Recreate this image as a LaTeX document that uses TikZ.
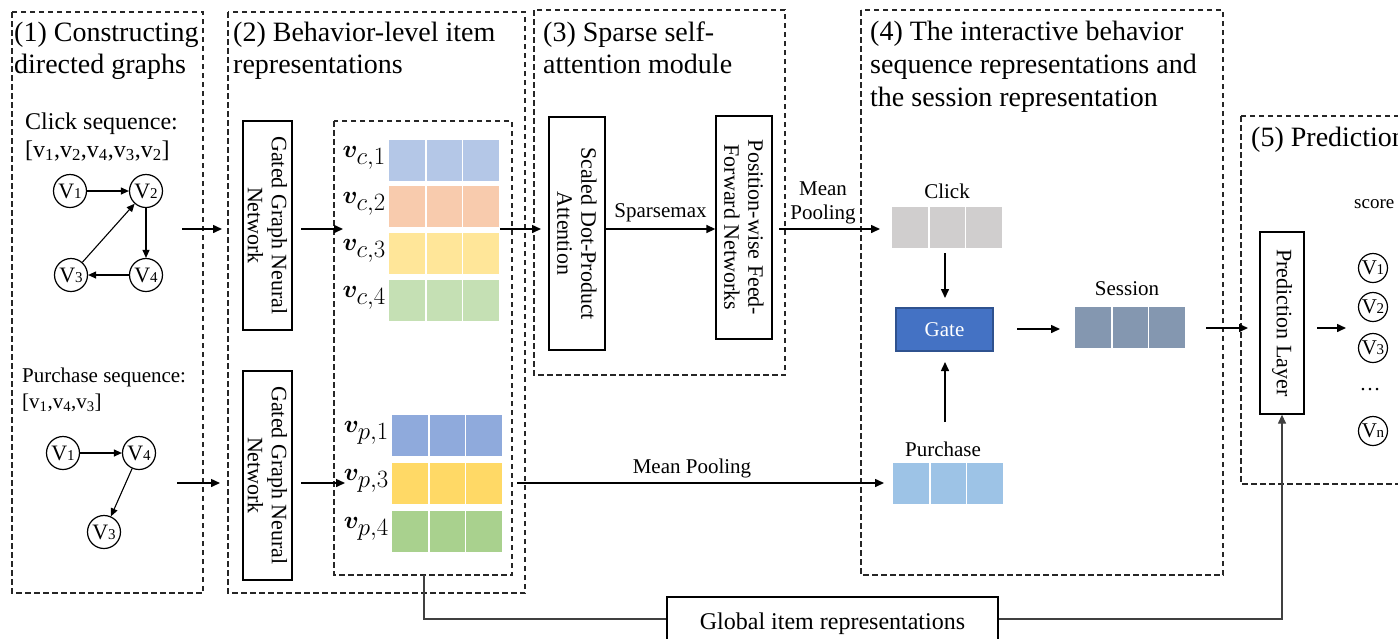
\documentclass[tikz,border=0pt]{standalone}
\usepackage{amsmath}
\usepackage{bm}
\usepackage{fontspec}
\setmainfont{Liberation Serif}
\usetikzlibrary{arrows.meta,calc}
\definecolor{cone}{HTML}{B4C7E7}
\definecolor{ctwo}{HTML}{F8CBAD}
\definecolor{cthree}{HTML}{FFE699}
\definecolor{cfour}{HTML}{C5E0B4}
\definecolor{pone}{HTML}{8FAADC}
\definecolor{pthree}{HTML}{FFD966}
\definecolor{pfour}{HTML}{A9D18E}
\definecolor{clickv}{HTML}{D0CECE}
\definecolor{purv}{HTML}{9DC3E6}
\definecolor{sessv}{HTML}{8497B0}
\definecolor{gatef}{HTML}{4472C4}
\definecolor{gateb}{HTML}{2F528F}
\definecolor{glin}{HTML}{404040}
\newcommand\cv[1]{V\kern-0.3pt{\fontsize{15}{15}\selectfont #1}}
\newcommand\myvec[4]{%
  \node[vecbox, fill=#4, anchor=north west] (#1) at (#2,#3) {};
  \draw[white, line width=1.6pt] ($(#1.north west)!1/3!(#1.north east)$) -- ($(#1.south west)!1/3!(#1.south east)$);
  \draw[white, line width=1.6pt] ($(#1.north west)!2/3!(#1.north east)$) -- ($(#1.south west)!2/3!(#1.south east)$);
}
\begin{document}
\begin{tikzpicture}[x=1pt,y=-1pt,
  dbox/.style={draw=black!85, line width=1.1pt, dash pattern=on 5.5pt off 3.5pt},
  ttl/.style={anchor=base west, inner sep=0, font=\fontsize{28}{32}\selectfont},
  lbl/.style={inner sep=0, font=\fontsize{21}{25}\selectfont},
  blk/.style={draw, line width=1.3pt, inner sep=0, align=center, font=\fontsize{22}{24}\selectfont},
  circ/.style={draw, circle, line width=1.2pt, minimum size=33pt, inner sep=0, font=\fontsize{22}{22}\selectfont},
  scirc/.style={draw, circle, line width=1.2pt, minimum size=29pt, inner sep=0, font=\fontsize{21}{21}\selectfont},
  vecbox/.style={draw=none, inner sep=0, minimum width=110pt, minimum height=41pt},
  vlab/.style={anchor=east, inner sep=0, font=\fontsize{33}{33}\selectfont},
  arr/.style={-{Triangle[length=9pt,width=8pt]}, line width=1.5pt},
  garr/.style={-{Triangle[length=8pt,width=7pt]}, line width=1.1pt},
  conn/.style={draw=glin, line width=1.3pt}
]
\useasboundingbox (0,0) rectangle (1398,638);
\clip (0,0) rectangle (1398,638);
\fill[white] (0,0) rectangle (1398,638);

% ---------- dashed frames ----------
\draw[dbox] (12,12) rectangle (203,593);
\draw[dbox] (228,12) rectangle (525,593);
\draw[dbox] (334,121) rectangle (512,575);
\draw[dbox] (534,10) rectangle (785,375);
\draw[dbox] (861,10) rectangle (1223,575);
\draw[dbox] (1241,116) rectangle (1420,484);

% ---------- titles ----------
\node[ttl] (t1a) at (14,41) {(1) Constructing};
\node[ttl] (t1b) at (14,73) {directed graphs};
\node[ttl] (t2a) at (233,41) {(2) Behavior-level item};
\node[ttl] (t2b) at (233,73) {representations};
\node[ttl] (t3a) at (543,41) {(3) Sparse self-};
\node[ttl] (t3b) at (543,73) {attention module};
\node[ttl] (t4a) at (870,40) {(4) The interactive behavior};
\node[ttl] (t4b) at (870,73) {sequence representations and};
\node[ttl] (t4c) at (870,106) {the session representation};
\node[ttl] (t5a) at (1251,146) {(5) Prediction};

% ---------- (1) graphs ----------
\node[lbl, anchor=base west, font=\fontsize{24}{28}\selectfont] (cs) at (25,129) {Click sequence:};
\node[lbl, anchor=base west, font=\fontsize{24}{28}\selectfont] (csq) at (25,157) {[v\textsubscript{1},v\textsubscript{2},v\textsubscript{4},v\textsubscript{3},v\textsubscript{2}]};
\node[circ] (a1) at (70,191) {\cv{1}};
\node[circ] (a2) at (146,191) {\cv{2}};
\node[circ] (a4) at (146,275) {\cv{4}};
\node[circ] (a3) at (71,275) {\cv{3}};
\draw[garr] (a1) -- (a2);
\draw[garr] (a2) -- (a4);
\draw[garr] (a4) -- (a3);
\draw[garr] (a3) -- (a2);

\node[lbl, anchor=base west] (ps) at (22,382) {Purchase sequence:};
\node[lbl, anchor=base west] (psq) at (22,408) {[v\textsubscript{1},v\textsubscript{4},v\textsubscript{3}]};
\node[circ] (b1) at (63,453) {\cv{1}};
\node[circ] (b4) at (139,453) {\cv{4}};
\node[circ] (b3) at (104,532) {\cv{3}};
\draw[garr] (b1) -- (b4);
\draw[garr] (b4) -- (b3);

\coordinate (o1s) at (182,229); \coordinate (o1e) at (222,229);
\coordinate (o2s) at (177,483); \coordinate (o2e) at (220,483);
\draw[arr] (o1s) -- (o1e);
\draw[arr] (o2s) -- (o2e);

% ---------- (2) ----------
\node[blk, rotate=-90, minimum width=209pt, minimum height=49pt] (g1) at (267.5,225.5) {Gated Graph Neural\\Network};
\node[blk, rotate=-90, minimum width=209pt, minimum height=49pt] (g2) at (267.5,475.5) {Gated Graph Neural\\Network};
\coordinate (g1s) at (301,229); \coordinate (g1e) at (343,229);
\coordinate (g2s) at (301,483); \coordinate (g2e) at (345,483);
\draw[arr] (g1s) -- (g1e);
\draw[arr] (g2s) -- (g2e);

\myvec{vc1}{389}{140}{cone}
\myvec{vc2}{389}{186}{ctwo}
\myvec{vc3}{389}{233}{cthree}
\myvec{vc4}{389}{280}{cfour}
\myvec{vp1}{392}{415}{pone}
\myvec{vp3}{392}{463}{pthree}
\myvec{vp4}{392}{511}{pfour}
\node[vlab] (lc1) at (386,158) {$\boldsymbol{v}_{c,1}$};
\node[vlab] (lc2) at (386,204) {$\boldsymbol{v}_{c,2}$};
\node[vlab] (lc3) at (386,251) {$\boldsymbol{v}_{c,3}$};
\node[vlab] (lc4) at (386,298) {$\boldsymbol{v}_{c,4}$};
\node[vlab] (lp1) at (389,433) {$\boldsymbol{v}_{p,1}$};
\node[vlab] (lp3) at (389,481) {$\boldsymbol{v}_{p,3}$};
\node[vlab] (lp4) at (389,529) {$\boldsymbol{v}_{p,4}$};

% ---------- (3) ----------
\coordinate (m1s) at (500,229); \coordinate (m1e) at (541,229);
\draw[arr] (m1s) -- (m1e);
\node[blk, rotate=-90, minimum width=233pt, minimum height=56pt] (sdpa) at (577,233.5) {Scaled Dot-Product\\Attention};
\node[blk, rotate=-90, minimum width=223pt, minimum height=56pt] (pw) at (744,227.5) {Position-wise Feed-\\Forward Networks};
\draw[arr] (sdpa.north |- 0,229) -- (pw.south |- 0,229) node[midway, lbl, anchor=base, yshift=12pt] (spm) {Sparsemax};

\coordinate (mps) at (779,229); \coordinate (mpe) at (880,229);
\draw[arr] (mps) -- (mpe);
\node[lbl, anchor=base] (mp1) at (823,195) {Mean};
\node[lbl, anchor=base] (mp2) at (823,219) {Pooling};

\coordinate (mqs) at (517,483); \coordinate (mqe) at (884,483);
\draw[arr] (mqs) -- (mqe);
\node[lbl, anchor=base] (mq) at (692,473) {Mean Pooling};

% ---------- (4) ----------
\node[lbl, anchor=base] (clk) at (947,198) {Click};
\myvec{cvec}{892}{207}{clickv}
\node[lbl, anchor=base] (pur) at (943,456) {Purchase};
\myvec{pvec}{893}{463}{purv}
\node[lbl, anchor=base] (ses) at (1127,295) {Session};
\myvec{svec}{1075}{307}{sessv}
\node[draw=gateb, fill=gatef, line width=1.5pt, minimum width=97pt, minimum height=43pt, inner sep=0,
      text=white, font=\fontsize{21}{21}\selectfont] (gate) at (944.5,329.5) {Gate};
\coordinate (k1s) at (945,253); \coordinate (k1e) at (945,298);
\coordinate (k2s) at (945,422); \coordinate (k2e) at (945,362);
\draw[arr] (k1s) -- (k1e);
\draw[arr] (k2s) -- (k2e);
\coordinate (gs) at (1017,329); \coordinate (ge) at (1060,329);
\draw[arr] (gs) -- (ge);
\coordinate (ss) at (1206,328); \coordinate (se) at (1248,328);
\draw[arr] (ss) -- (se);

% ---------- (5) ----------
\node[blk, rotate=-90, minimum width=182pt, minimum height=44pt] (pred) at (1282,323) {Prediction Layer};
\coordinate (ps1) at (1317,328); \coordinate (pe1) at (1346,328);
\draw[arr] (ps1) -- (pe1);
\node[lbl, anchor=base west, font=\fontsize{19}{19}\selectfont] (score) at (1354,208) {score};
\node[scirc] (s1) at (1373,268) {\cv{1}};
\node[scirc] (s2) at (1373,307) {\cv{2}};
\node[scirc] (s3) at (1373,348) {\cv{3}};
\node[lbl] (sd) at (1370,390) {\dots};
\node[scirc] (sn) at (1373,431) {\cv{n}};

% ---------- global ----------
\node[draw, line width=1.3pt, minimum width=331pt, minimum height=54pt, inner sep=0,
      font=\fontsize{24}{24}\selectfont] (glob) at (832.5,624) {Global item representations};
\coordinate (ib) at (424,575);
\coordinate (gbl) at (424,619);
\coordinate (gbr) at (1282,619);
\draw[conn] (ib) -- (gbl) -- (glob.west |- gbl);
\draw[conn, -{Triangle[length=9pt,width=8pt]}] (glob.east |- gbr) -- (gbr) -- (pred.east);
\end{tikzpicture}
\end{document}
